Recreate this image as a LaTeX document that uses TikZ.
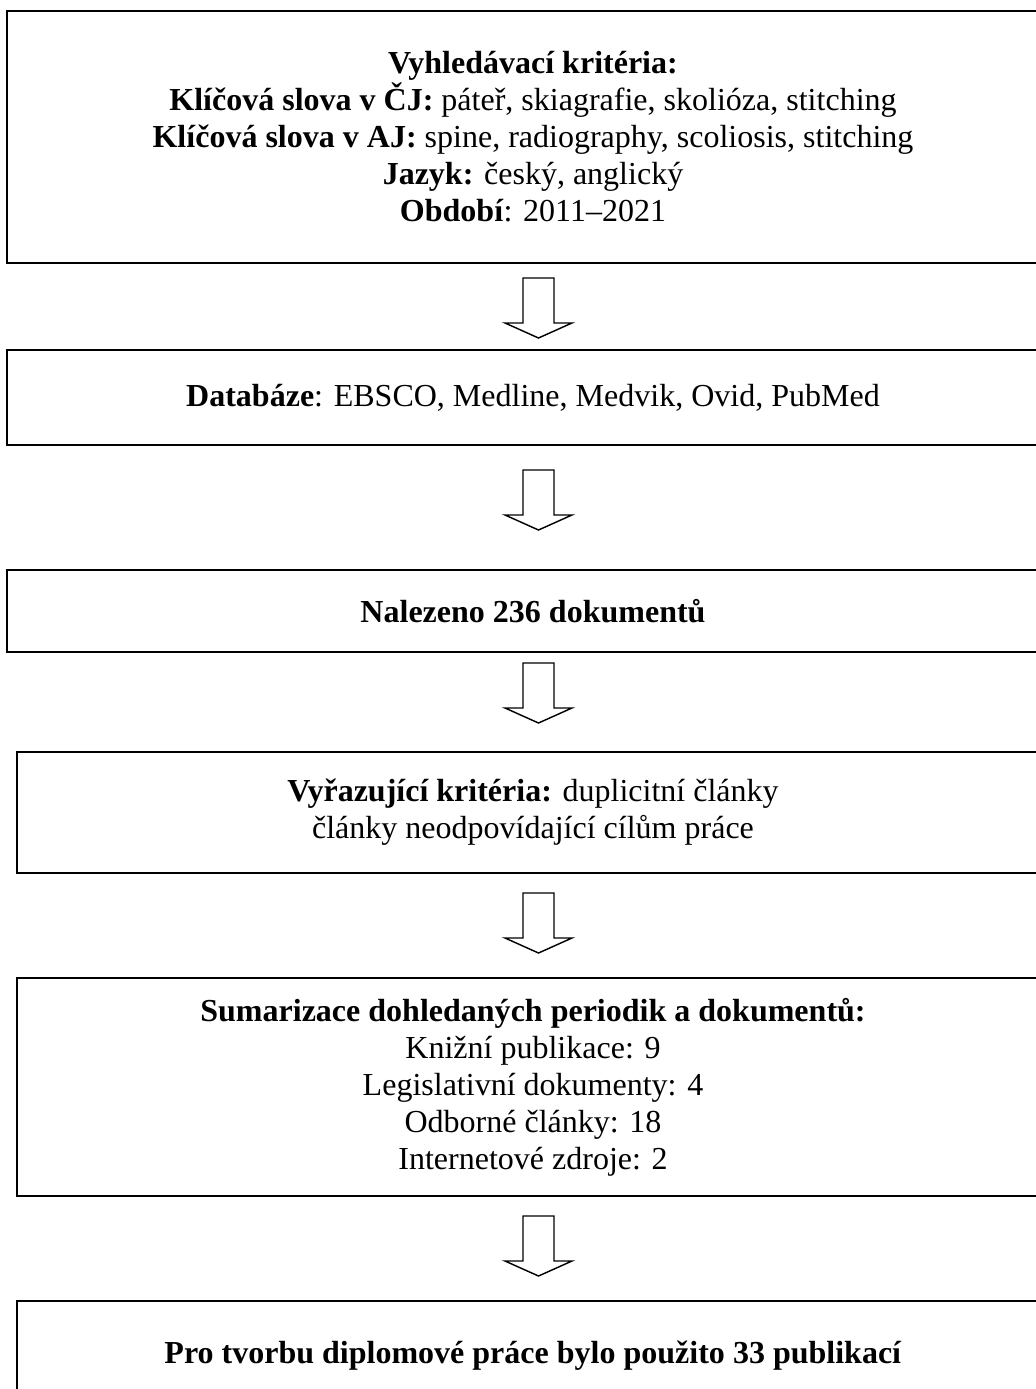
\documentclass[tikz,border=0pt]{standalone}
\usepackage{fontspec}
\setmainfont{Liberation Serif}
\usetikzlibrary{calc}
\def\px{0.0135cm}
\def\blockarrow(#1){\draw[arrowline] ($(#1)+(-15.5,0)$) -- ++(0,45) -- ++(-18,0) -- ++(33.5,15) -- ++(33.5,-15) -- ++(-18,0) -- ++(0,-45) -- cycle;}
\tikzset{
	stepbox/.style={draw=black, line width=0.7pt, inner sep=0pt, align=center,
		font=\fontsize{12.3}{14.2}\selectfont},
	arrowline/.style={draw=black, line width=0.55pt, line join=miter}
}

\begin{document}
\begin{tikzpicture}[x=\px, y=-\px]
		%%%%% START %%%%%
		\useasboundingbox (0,0) rectangle (1035,1389);
		
		\node[stepbox, minimum width=1052*\px, minimum height=252*\px] (krit) at (533,137)
			{\textbf{Vyhledávací kritéria:}\\
			\textbf{Klíčová slova v ČJ:} páteř, skiagrafie, skolióza, stitching\\
			\textbf{Klíčová slova v AJ:} spine, radiography, scoliosis, stitching\\
			\textbf{Jazyk:} český, anglický\\
			\textbf{Období}: 2011–2021};
		
		\node[stepbox, minimum width=1052*\px, minimum height=95*\px] (datab) at (533,397.5)
			{\textbf{Databáze}: EBSCO, Medline, Medvik, Ovid, PubMed};
		
		\node[stepbox, minimum width=1052*\px, minimum height=82*\px] (nalez) at (533,611)
			{\textbf{Nalezeno 236 dokumentů}};
		
		\node[stepbox, minimum width=1032*\px, minimum height=121*\px] (vyraz) at (533,812.5)
			{\textbf{Vyřazující kritéria:} duplicitní články\\
			články neodpovídající cílům práce};
		
		\node[stepbox, minimum width=1032*\px, minimum height=218*\px] (sumar) at (533,1087)
			{\textbf{Sumarizace dohledaných periodik a dokumentů:}\\
			Knižní publikace: 9\\
			Legislativní dokumenty: 4\\
			Odborné články: 18\\
			Internetové zdroje: 2};
		
		\node[stepbox, minimum width=1032*\px, minimum height=109*\px] (publ) at (533,1355.5)
			{\textbf{Pro tvorbu diplomové práce bylo použito 33 publikací}};
		
		% arrows between the boxes
		\coordinate (a1) at (538.5,278);
		\coordinate (a2) at (538.5,470);
		\coordinate (a3) at (538.5,663);
		\coordinate (a4) at (538.5,893);
		\coordinate (a5) at (538.5,1216);
		\blockarrow(a1)
		\blockarrow(a2)
		\blockarrow(a3)
		\blockarrow(a4)
		\blockarrow(a5)
		
		%%%%% END %%%%%
\end{tikzpicture}
\end{document}
